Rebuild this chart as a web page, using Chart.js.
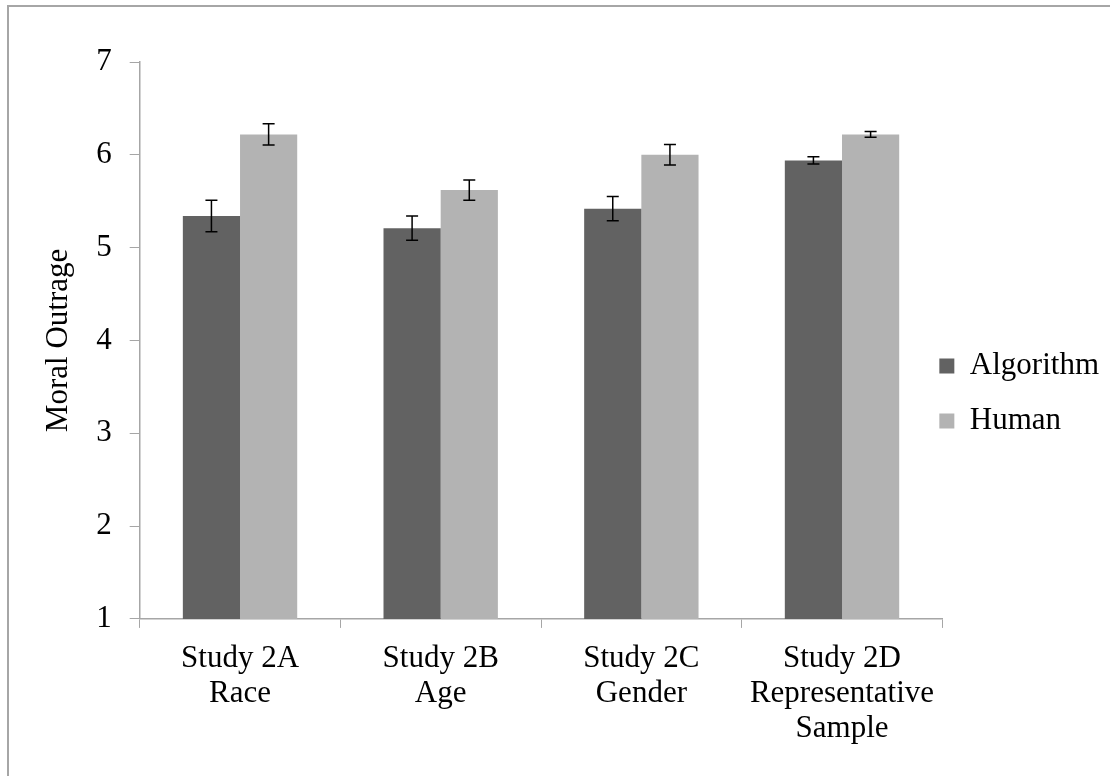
<!DOCTYPE html>
<html>
<head>
<meta charset="utf-8">
<script src="https://cdn.jsdelivr.net/npm/chart.js@4.4.1/dist/chart.umd.min.js"></script>
<style>
  html, body { margin: 0; padding: 0; background: #fff; overflow: hidden; }
  #wrap {
    position: absolute; left: 7px; top: 5px;
    width: 1127px; height: 776px;
    border-left: 2px solid #a6a6a6; border-top: 2px solid #a6a6a6;
  }
</style>
</head>
<body>
<div id="wrap"><canvas id="barChart"></canvas></div>
<script>
// categories (multi-line labels)
var categories = [
    ["Study 2A", "Race"],
    ["Study 2B", "Age"],
    ["Study 2C", "Gender"],
    ["Study 2D", "Representative", "Sample"]
];
var algorithmMeans = [5.34, 5.21, 5.42, 5.94];
var algorithmErrors = [0.17, 0.13, 0.13, 0.04];
var humanMeans = [6.22, 5.62, 6.00, 6.22];
var humanErrors = [0.115, 0.11, 0.11, 0.03];
var yTicks = [1, 2, 3, 4, 5, 6, 7];

var serif = "'Liberation Serif', 'Times New Roman', serif";
Chart.defaults.font.family = serif;
Chart.defaults.color = '#000';

// draw error bars with the y scale
var errorBars = {
    id: 'errorBars',
    afterDatasetsDraw: function (chart) {
        var ctx = chart.ctx;
        var y = chart.scales.y;
        ctx.save();
        ctx.strokeStyle = '#000';
        ctx.lineWidth = 1.5;
        chart.data.datasets.forEach(function (ds, i) {
            var meta = chart.getDatasetMeta(i);
            meta.data.forEach(function (bar, j) {
                var top = y.getPixelForValue(ds.data[j] + ds.errors[j]);
                var bot = y.getPixelForValue(ds.data[j] - ds.errors[j]);
                ctx.beginPath();
                ctx.moveTo(bar.x, top); ctx.lineTo(bar.x, bot);
                ctx.moveTo(bar.x - 6, top); ctx.lineTo(bar.x + 6, top);
                ctx.moveTo(bar.x - 6, bot); ctx.lineTo(bar.x + 6, bot);
                ctx.stroke();
            });
        });
        ctx.restore();
    }
};

// pull the legend in so its squares sit right at the end of the x axis
var legendShift = {
    id: 'legendShift',
    afterLayout: function (chart) {
        chart.legend.left -= 27;
        chart.legend.right -= 27;
        chart.legend.top -= 17;
        chart.legend.bottom -= 17;
    }
};

var ctxB = document.getElementById("barChart").getContext('2d');
var myBarChart = new Chart(ctxB, {
    type: 'bar',
    data: {
        labels: categories,
        datasets: [{
                label: "Algorithm",
                data: algorithmMeans,
                errors: algorithmErrors,
                backgroundColor: "#626262"
            }, {
                label: "Human",
                data: humanMeans,
                errors: humanErrors,
                backgroundColor: "#b3b3b3"
            }]
    },
    options: {
        responsive: true,
        maintainAspectRatio: false,
        animation: false,
        layout: { padding: { left: 31, top: 55, right: 0, bottom: 24 } },
        datasets: { bar: { barPercentage: 1, categoryPercentage: 0.57 } },
        plugins: {
            tooltip: { enabled: false },
            legend: {
                position: 'right',
                labels: { boxWidth: 15, boxHeight: 15, padding: 24, font: { size: 31 } }
            }
        },
        scales: {
            x: {
                grid: { drawOnChartArea: false, offset: true, tickLength: 9, color: '#a6a6a6' },
                border: { color: '#a6a6a6', width: 1.5 },
                ticks: { font: { size: 31, lineHeight: 1.13 }, padding: 13, maxRotation: 0 }
            },
            y: {
                min: 1, max: 7,
                afterBuildTicks: function (s) { s.ticks = yTicks.map(function (v) { return { value: v }; }); },
                grid: { drawOnChartArea: false, tickLength: 10, color: '#a6a6a6' },
                border: { color: '#a6a6a6', width: 1.5 },
                ticks: { font: { size: 31 }, padding: 18 },
                title: { display: true, text: "Moral Outrage", font: { size: 31 }, padding: { top: 0, bottom: 1 } }
            }
        }
    },
    plugins: [errorBars, legendShift]
});
</script>
</body>
</html>
